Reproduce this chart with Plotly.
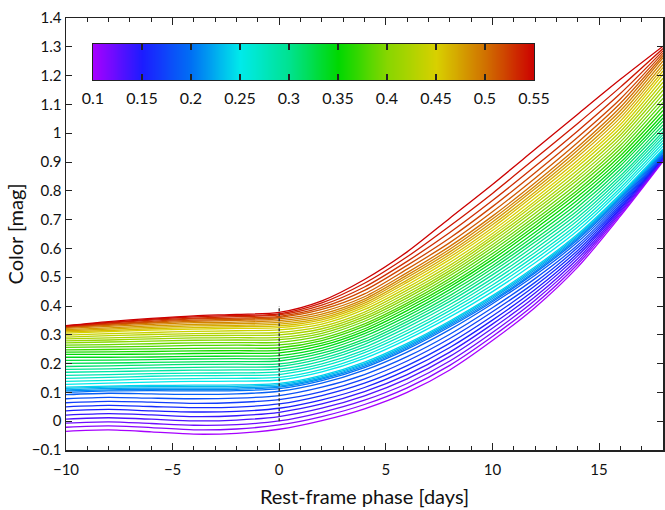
import plotly.graph_objects as go

# Rest-frame phase grid (days)
phase = [-10, -8, -6, -4, -2, 0, 2, 4, 6, 8, 10, 12, 14, 16, 18]

# Colour-coding parameter of each curve
param = [0.10, 0.11, 0.12, 0.13, 0.14, 0.15, 0.16, 0.17, 0.18, 0.19,
         0.20, 0.21, 0.22, 0.23, 0.24, 0.25, 0.26, 0.27, 0.28, 0.29,
         0.30, 0.31, 0.32, 0.33, 0.34, 0.35, 0.36, 0.37, 0.38, 0.39,
         0.40, 0.41, 0.42, 0.43, 0.44, 0.45, 0.46, 0.47, 0.48, 0.49,
         0.50, 0.51, 0.52, 0.53, 0.54, 0.55]

# Colour curves [mag], one row per parameter value
color_mag = [
    [-0.035, -0.030, -0.037, -0.045, -0.042, -0.028, 0.002, 0.043, 0.100, 0.178, 0.280, 0.395, 0.535, 0.712, 0.902],
    [-0.021, -0.016, -0.022, -0.030, -0.027, -0.013, 0.016, 0.058, 0.116, 0.194, 0.294, 0.407, 0.545, 0.718, 0.905],
    [-0.007, -0.002, -0.008, -0.014, -0.012, 0.001, 0.031, 0.073, 0.131, 0.209, 0.308, 0.420, 0.554, 0.724, 0.907],
    [0.007, 0.012, 0.007, 0.001, 0.004, 0.016, 0.045, 0.088, 0.147, 0.225, 0.323, 0.432, 0.564, 0.730, 0.910],
    [0.021, 0.026, 0.022, 0.016, 0.019, 0.031, 0.060, 0.103, 0.162, 0.240, 0.337, 0.445, 0.574, 0.736, 0.912],
    [0.036, 0.041, 0.036, 0.032, 0.034, 0.045, 0.074, 0.117, 0.178, 0.256, 0.351, 0.457, 0.583, 0.741, 0.915],
    [0.050, 0.055, 0.051, 0.047, 0.049, 0.060, 0.089, 0.132, 0.193, 0.271, 0.365, 0.470, 0.593, 0.747, 0.917],
    [0.064, 0.069, 0.066, 0.062, 0.065, 0.075, 0.103, 0.147, 0.209, 0.287, 0.380, 0.482, 0.603, 0.753, 0.920],
    [0.078, 0.083, 0.080, 0.078, 0.080, 0.089, 0.118, 0.162, 0.224, 0.302, 0.394, 0.495, 0.612, 0.759, 0.922],
    [0.092, 0.097, 0.095, 0.093, 0.095, 0.104, 0.132, 0.177, 0.240, 0.318, 0.408, 0.507, 0.622, 0.765, 0.925],
    [0.100, 0.105, 0.106, 0.105, 0.106, 0.113, 0.141, 0.186, 0.250, 0.328, 0.415, 0.515, 0.630, 0.771, 0.930],
    [0.105, 0.109, 0.111, 0.110, 0.111, 0.118, 0.146, 0.191, 0.255, 0.333, 0.420, 0.520, 0.635, 0.776, 0.934],
    [0.109, 0.114, 0.115, 0.115, 0.116, 0.122, 0.150, 0.196, 0.260, 0.338, 0.426, 0.526, 0.640, 0.780, 0.938],
    [0.114, 0.118, 0.120, 0.120, 0.121, 0.127, 0.155, 0.200, 0.265, 0.343, 0.431, 0.531, 0.645, 0.785, 0.941],
    [0.118, 0.122, 0.124, 0.125, 0.126, 0.131, 0.159, 0.205, 0.270, 0.348, 0.436, 0.536, 0.650, 0.789, 0.945],
    [0.128, 0.132, 0.136, 0.138, 0.139, 0.143, 0.171, 0.218, 0.284, 0.362, 0.450, 0.550, 0.662, 0.800, 0.955],
    [0.138, 0.142, 0.146, 0.148, 0.149, 0.152, 0.180, 0.228, 0.294, 0.373, 0.462, 0.562, 0.674, 0.810, 0.965],
    [0.149, 0.152, 0.156, 0.158, 0.159, 0.162, 0.190, 0.238, 0.305, 0.384, 0.473, 0.574, 0.685, 0.821, 0.975],
    [0.159, 0.162, 0.165, 0.167, 0.168, 0.171, 0.199, 0.247, 0.315, 0.394, 0.485, 0.586, 0.697, 0.831, 0.985],
    [0.170, 0.172, 0.175, 0.177, 0.178, 0.181, 0.209, 0.257, 0.326, 0.405, 0.496, 0.598, 0.708, 0.842, 0.995],
    [0.180, 0.182, 0.185, 0.187, 0.188, 0.190, 0.218, 0.267, 0.336, 0.416, 0.508, 0.610, 0.720, 0.852, 1.005],
    [0.190, 0.192, 0.195, 0.197, 0.198, 0.199, 0.227, 0.276, 0.346, 0.426, 0.519, 0.622, 0.732, 0.864, 1.017],
    [0.201, 0.202, 0.204, 0.206, 0.207, 0.209, 0.236, 0.285, 0.355, 0.436, 0.530, 0.633, 0.744, 0.875, 1.029],
    [0.211, 0.212, 0.214, 0.216, 0.217, 0.218, 0.245, 0.295, 0.365, 0.447, 0.540, 0.645, 0.756, 0.887, 1.041],
    [0.222, 0.222, 0.223, 0.225, 0.226, 0.228, 0.254, 0.304, 0.374, 0.457, 0.551, 0.656, 0.768, 0.898, 1.053],
    [0.232, 0.232, 0.233, 0.235, 0.236, 0.237, 0.263, 0.313, 0.384, 0.467, 0.562, 0.668, 0.780, 0.910, 1.065],
    [0.240, 0.241, 0.242, 0.244, 0.245, 0.246, 0.271, 0.321, 0.393, 0.476, 0.572, 0.679, 0.792, 0.922, 1.079],
    [0.248, 0.249, 0.251, 0.253, 0.254, 0.255, 0.280, 0.330, 0.402, 0.486, 0.582, 0.690, 0.803, 0.934, 1.093],
    [0.256, 0.258, 0.260, 0.263, 0.264, 0.265, 0.288, 0.338, 0.410, 0.495, 0.593, 0.700, 0.815, 0.946, 1.107],
    [0.264, 0.266, 0.269, 0.272, 0.273, 0.274, 0.297, 0.347, 0.419, 0.505, 0.603, 0.711, 0.826, 0.958, 1.121],
    [0.272, 0.275, 0.278, 0.281, 0.282, 0.283, 0.305, 0.355, 0.428, 0.514, 0.613, 0.722, 0.838, 0.970, 1.135],
    [0.279, 0.282, 0.286, 0.289, 0.290, 0.291, 0.313, 0.363, 0.437, 0.523, 0.623, 0.733, 0.849, 0.982, 1.149],
    [0.286, 0.289, 0.293, 0.297, 0.298, 0.300, 0.321, 0.371, 0.446, 0.532, 0.633, 0.743, 0.861, 0.994, 1.163],
    [0.292, 0.297, 0.301, 0.304, 0.306, 0.308, 0.329, 0.379, 0.455, 0.541, 0.642, 0.754, 0.872, 1.006, 1.177],
    [0.299, 0.304, 0.308, 0.312, 0.314, 0.317, 0.337, 0.388, 0.464, 0.551, 0.652, 0.764, 0.884, 1.018, 1.191],
    [0.306, 0.311, 0.316, 0.320, 0.322, 0.325, 0.345, 0.396, 0.473, 0.561, 0.662, 0.775, 0.895, 1.030, 1.205],
    [0.310, 0.315, 0.321, 0.325, 0.328, 0.331, 0.352, 0.403, 0.482, 0.570, 0.672, 0.786, 0.906, 1.042, 1.216],
    [0.314, 0.320, 0.326, 0.331, 0.333, 0.337, 0.358, 0.410, 0.490, 0.579, 0.682, 0.796, 0.918, 1.054, 1.228],
    [0.318, 0.324, 0.331, 0.336, 0.339, 0.343, 0.365, 0.417, 0.499, 0.588, 0.692, 0.807, 0.929, 1.066, 1.239],
    [0.322, 0.329, 0.336, 0.342, 0.344, 0.349, 0.372, 0.424, 0.507, 0.597, 0.702, 0.817, 0.941, 1.078, 1.251],
    [0.326, 0.333, 0.341, 0.347, 0.350, 0.355, 0.380, 0.432, 0.516, 0.607, 0.712, 0.828, 0.952, 1.090, 1.262],
    [0.327, 0.336, 0.344, 0.351, 0.354, 0.360, 0.388, 0.442, 0.528, 0.620, 0.727, 0.844, 0.968, 1.104, 1.270],
    [0.328, 0.338, 0.347, 0.355, 0.358, 0.364, 0.395, 0.454, 0.541, 0.636, 0.745, 0.863, 0.986, 1.119, 1.278],
    [0.330, 0.341, 0.351, 0.358, 0.363, 0.369, 0.403, 0.466, 0.555, 0.655, 0.766, 0.885, 1.008, 1.138, 1.286],
    [0.331, 0.343, 0.354, 0.362, 0.367, 0.373, 0.411, 0.479, 0.571, 0.678, 0.791, 0.912, 1.034, 1.160, 1.294],
    [0.332, 0.346, 0.357, 0.366, 0.371, 0.378, 0.418, 0.492, 0.588, 0.705, 0.822, 0.944, 1.066, 1.187, 1.302],
]

# Colour bar ticks
cbar_ticks = [0.10, 0.15, 0.20, 0.25, 0.30, 0.35, 0.40, 0.45, 0.50, 0.55]
cbar_labels = ["0.1", "0.15", "0.2", "0.25", "0.3", "0.35", "0.4", "0.45", "0.5", "0.55"]

# Reference marker at maximum
ref_phase = [0, 0]
ref_color = [0.0, 0.4]

pmin, pmax = 0.10, 0.55
cstops = [0.000, 0.111, 0.222, 0.333, 0.444, 0.556, 0.667, 0.778, 0.889, 1.000]
chex = ["#a600ff", "#1c1cff", "#0070f4", "#00eaea", "#00e290",
        "#00d800", "#88d600", "#d8d000", "#d07000", "#cc0000"]
cscale = [[s, c] for s, c in zip(cstops, chex)]


def hex_rgb(h):
    h = h.lstrip("#")
    return [int(h[i:i + 2], 16) for i in (0, 2, 4)]


def palette(f):
    f = min(max(f, 0.0), 1.0)
    for i in range(len(cstops) - 1):
        if cstops[i] <= f <= cstops[i + 1]:
            w = (f - cstops[i]) / (cstops[i + 1] - cstops[i])
            a, b = hex_rgb(chex[i]), hex_rgb(chex[i + 1])
            r = [round(a[k] + (b[k] - a[k]) * w) for k in range(3)]
            return "rgb(%d,%d,%d)" % tuple(r)
    return chex[-1]


FONT = "Lato"
INK = "#111111"
fig = go.Figure()

for p, ys in zip(param, color_mag):
    fig.add_trace(go.Scatter(
        x=phase, y=ys, mode="lines",
        line=dict(color=palette((p - pmin) / (pmax - pmin)), width=1.3,
                  shape="spline", smoothing=0.8),
        showlegend=False, hoverinfo="skip",
    ))

fig.add_trace(go.Scatter(
    x=ref_phase, y=ref_color, mode="lines",
    line=dict(color="#333333", width=1.4, dash="3px,2px"),
    showlegend=False, hoverinfo="skip",
))

# colour bar drawn as a one-row heatmap of the parameter values on inset axes
fig.add_trace(go.Heatmap(
    x=param, z=[param], zmin=pmin, zmax=pmax, colorscale=cscale,
    zsmooth="best", showscale=False, hoverinfo="skip",
    xaxis="x2", yaxis="y2",
))

axis_common = dict(
    showline=True, linecolor="#222222", linewidth=1.5, mirror="ticks",
    ticks="inside", tickcolor="#222222", showgrid=False, zeroline=False,
    automargin=False,
    tickfont=dict(family=FONT, size=15, color=INK),
)

fig.update_layout(
    xaxis=dict(
        range=[-10, 18], dtick=5, tick0=0, ticklen=7, tickwidth=1,
        ticklabelstandoff=5,
        minor=dict(dtick=1, ticks="inside", ticklen=4, tickcolor="#222222", showgrid=False),
        title=dict(text="Rest-frame phase [days]", font=dict(family=FONT, size=20, color=INK), standoff=13),
        **axis_common,
    ),
    yaxis=dict(
        range=[-0.1, 1.4], dtick=0.1, tick0=0, ticklen=6, tickwidth=1,
        title=dict(text="Color [mag]", font=dict(family=FONT, size=20, color=INK), standoff=3),
        **axis_common,
    ),
    xaxis2=dict(
        domain=[0.0452, 0.7839], anchor="y2", range=[pmin, pmax],
        tickvals=cbar_ticks, ticktext=cbar_labels,
        ticks="inside", ticklen=6, tickwidth=1.2, tickcolor="#222222",
        showline=True, linecolor="#222222", linewidth=1.2, mirror="ticks",
        showgrid=False, zeroline=False, automargin=False, ticklabelstandoff=4,
        tickfont=dict(family=FONT, size=16, color=INK),
    ),
    yaxis2=dict(
        domain=[0.8565, 0.9398], anchor="x2",
        showticklabels=False, ticks="", showline=True, linecolor="#222222",
        linewidth=1.2, mirror=True, showgrid=False, zeroline=False, automargin=False,
    ),
    width=665, height=510,
    margin=dict(l=66, r=2, t=18, b=60, autoexpand=False),
    paper_bgcolor="white", plot_bgcolor="white",
    showlegend=False,
)

fig.write_html(
    "out.html",
    config={"displayModeBar": False, "staticPlot": True},
    post_script="document.body.style.margin='0';document.body.style.overflow='hidden';",
)
